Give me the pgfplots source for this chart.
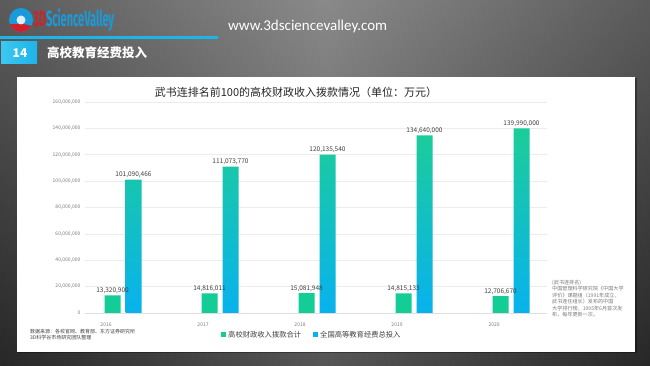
\documentclass[border=0pt]{standalone}
\usepackage{fontspec}
\setmainfont{Noto Sans CJK SC}
\newfontfamily\urlfont{Carlito}
\newfontfamily\logofont{Fira Sans}
\usepackage{pgfplots}
\usepackage{pgfplotstable}
\pgfplotsset{compat=1.18}
\definecolor{bggreen}{HTML}{14CC95}
\definecolor{bgblue}{HTML}{08B2EE}
\definecolor{bgtop}{HTML}{1CCD98}
\definecolor{cyanhead}{HTML}{1DB4EA}
\definecolor{txtgray}{HTML}{404040}
\definecolor{lightgray}{HTML}{7A7A7A}
\definecolor{logored}{HTML}{D0202A}
\definecolor{logoblue}{HTML}{1A9AD8}

\pgfplotstableread{
x y lab
0 13320900 13,320,900
1 14816011 14,816,011
2 15081948 15,081,948
3 14815133 14,815,133
4 12706670 12,706,670
}\greendata
\pgfplotstableread{
x y lab
0 101090466 101,090,466
1 111073770 111,073,770
2 120135540 120,135,540
3 134640000 134,640,000
4 139990000 139,990,000
}\bluedata

\begin{document}
\begin{tikzpicture}[x=1pt,y=1pt]
% slide background
\shade[top color={rgb,255:red,112;green,112;blue,112}, bottom color={rgb,255:red,48;green,48;blue,48}] (0,0) rectangle (650,366);
\shade[left color=black, right color=black, middle color=white, opacity=0.18] (0,0) rectangle (650,366);
% header
\fill[logoblue] (21,346) circle (12);
\fill[logored] (21,346) ++(200:12) arc (200:330:12) -- (24,342) -- cycle;
\fill[white!85!logoblue] (21,346) circle (4.5);
\node[anchor=west, inner sep=0, font=\logofont\bfseries\fontsize{22}{22}\selectfont] at (33,346) {\scalebox{0.5}[1]{\textcolor{logored}{3D}\textcolor{logoblue}{ScienceValley}}};
\fill[cyanhead] (0,327) rectangle (218,329.5);
\node[anchor=west, inner sep=0, text=white, font=\urlfont\fontsize{15}{15}\selectfont] at (228,339) {www.3dsciencevalley.com};
\shade[left color={rgb,255:red,60;green,200;blue,240}, right color=cyanhead] (1,302) rectangle (37,324);
\node[text=white, font=\bfseries\fontsize{12}{12}\selectfont] at (20,313) {14};
\node[anchor=west, inner sep=0, text=white, font=\bfseries\fontsize{12.5}{12.5}\selectfont] at (47,313) {高校教育经费投入};
% panel
\fill[black, opacity=0.35] (18,13) rectangle (637,288);
\fill[white] (17,14) rectangle (635,289);
% chart
\begin{axis}[
  at={(85pt,53pt)}, anchor=south west,
  scale only axis, width=462pt, height=211pt,
  xmin=-0.392, xmax=4.371, ymin=0, ymax=160000000,
  enlargelimits=false,
  ybar=5pt, bar width=16pt,
  axis lines*=left,
  y axis line style={draw=none},
  x axis line style={draw=gray!25, line width=0.6pt, -},
  tick style={draw=none},
  ymajorgrids, grid style={draw=gray!15, line width=0.6pt},
  ytick={0,20000000,40000000,60000000,80000000,100000000,120000000,140000000,160000000},
  scaled y ticks=false,
  yticklabel={\pgfmathprintnumber[fixed,precision=0,1000 sep={,}]{\tick}},
  yticklabel style={font=\fontsize{5}{5}\selectfont, text=lightgray, xshift=-1pt},
  xtick={-0.175,0.825,1.825,2.825,3.825},
  xticklabels={2016,2017,2018,2019,2020},
  xticklabel style={font=\fontsize{5}{5}\selectfont, text=lightgray, yshift=-2pt},
  /pgf/number format/assume math mode=true,
  point meta=explicit symbolic,
  nodes near coords,
  every node near coord/.append style={font=\fontsize{6.5}{6.5}\selectfont, text=txtgray, inner sep=1.5pt},
  clip=false,
]
\addplot[fill=bggreen, draw=none] table[x=x, y=y, meta=lab] {\greendata};
\addplot[draw=none, shading=axis, top color=bgtop, bottom color=bgblue] table[x=x, y=y, meta=lab] {\bluedata};
\end{axis}
% title
\node[text=black!85, font=\fontsize{11}{11}\selectfont] at (296,274) {武书连排名前100的高校财政收入拨款情况（单位：万元）};
% legend
\fill[bggreen] (220.5,28.5) rectangle (225.5,33.5);
\node[anchor=west, inner sep=0, text=txtgray, font=\fontsize{7.3}{7.3}\selectfont] at (228,31) {高校财政收入拨款合计};
\fill[bgblue] (312.5,28.5) rectangle (317.5,33.5);
\node[anchor=west, inner sep=0, text=txtgray, font=\fontsize{7.3}{7.3}\selectfont] at (320,31) {全国高等教育经费总投入};
% source
\node[anchor=north west, inner sep=0, align=left, text=txtgray, font=\fontsize{5}{6.5}\selectfont] at (30,37) {数据来源：各校官网、教育部、东方证券研究所\\3D科学谷市场研究团队整理};
% note
\node[anchor=north west, inner sep=0, align=left, text=lightgray, font=\fontsize{5.1}{6.4}\selectfont] at (552,86) {(武书连排名)\\中国管理科学研究院《中国大学\\评价》课题组（1991年成立，\\武书连任组长）发布的中国\\大学排行榜，1995年6月首次发\\布，每年更新一次。};
\pgfresetboundingbox
\path (0,0) rectangle (650,366);
\end{tikzpicture}
\end{document}
